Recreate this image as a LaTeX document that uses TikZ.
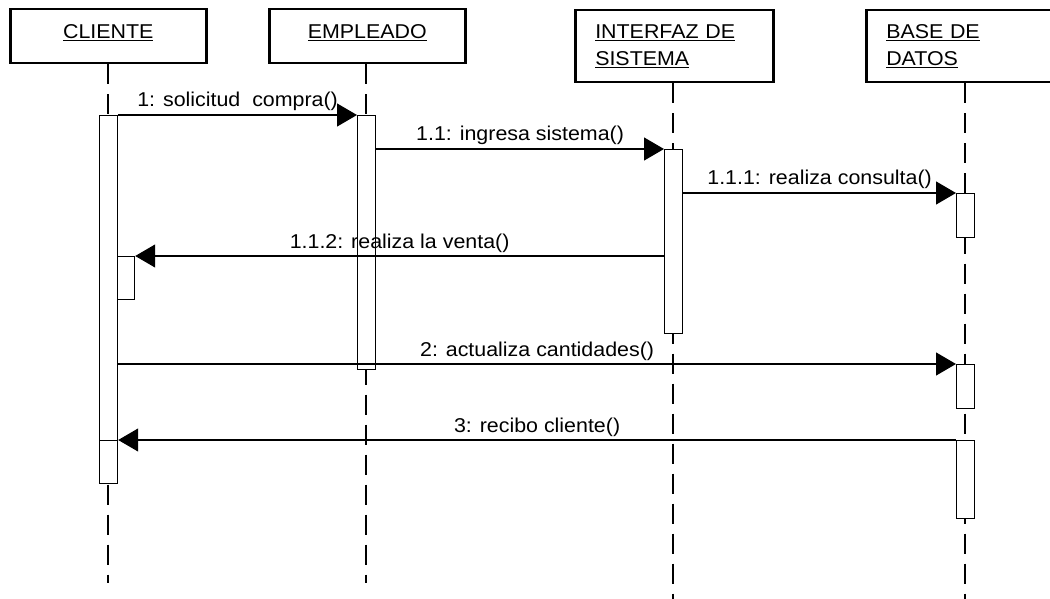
\documentclass[tikz,border=0pt]{standalone}
\usepackage{fontspec}
\setmainfont{Liberation Sans}[FakeStretch=1.07]
\usetikzlibrary{arrows.meta}

\tikzset{
  actor/.style={draw, line width=2.5pt, minimum width=196pt, minimum height=54pt,
    inner sep=0pt, text height=14pt, text depth=9pt},
  actorwide/.style={draw, line width=2.5pt, minimum width=198pt, minimum height=72pt,
    inner xsep=20pt, inner ysep=0pt, text width=158pt, align=left},
  lifeline/.style={line width=1.2pt, dash pattern=on 20pt off 10pt},
  activation/.style={draw, fill=white, line width=1.2pt, minimum width=18pt, inner sep=0pt, anchor=north west},
  msg/.style={line width=1.2pt, -{Triangle[length=20pt,width=23pt]}},
  msglabel/.style={midway, anchor=base, yshift=8pt}
}

\begin{document}
\begin{tikzpicture}[x=1pt, y=-1pt, font=\fontsize{20}{27}\selectfont]
        \useasboundingbox (0,0) rectangle (1050,599);
        \clip (0,0) rectangle (1050,599);

        % Draw the objects
        \node[actor, anchor=north west] (cliente) at (9,8) {\underline{CLIENTE}};
        \node[actor, anchor=north west] (empleado) at (268,8) {\underline{EMPLEADO}};
        \node[actorwide, anchor=north west] (interfaz) at (574,9) {\underline{INTERFAZ DE}\\\underline{SISTEMA}};
        \node[actorwide, anchor=north west] (basedatos) at (865,9) {\underline{BASE DE}\\\underline{DATOS}};

        % Add the lifelines
        \coordinate (clienteEnd) at (108,583);
        \coordinate (empleadoEnd) at (366,583);
        \coordinate (interfazEnd) at (673,600);
        \coordinate (basedatosEnd) at (965,600);
        \draw[lifeline] (cliente.south -| clienteEnd) -- (clienteEnd);
        \draw[lifeline] (empleado.south -| empleadoEnd) -- (empleadoEnd);
        \draw[lifeline] (interfaz.south -| interfazEnd) -- (interfazEnd);
        \draw[lifeline] (basedatos.south -| basedatosEnd) -- (basedatosEnd);

        % Add the activation bars
        \node[activation, minimum height=325pt] (actCliente) at (99,115) {};
        \node[activation, minimum height=43pt] (actClienteB) at (99,440) {};
        \node[activation, minimum width=17pt, minimum height=43pt] (actClienteS) at (117,256) {};
        \node[activation, minimum height=254pt] (actEmpleado) at (357,115) {};
        \node[activation, minimum height=184pt] (actInterfaz) at (664,149) {};
        \node[activation, minimum height=44pt] (actBaseA) at (956,193) {};
        \node[activation, minimum height=44pt] (actBaseB) at (956,364) {};
        \node[activation, minimum height=78pt] (actBaseC) at (956,440) {};

        % Add the messages
        \draw[msg] (actCliente.north east) -- (actEmpleado.north west)
          node[msglabel] {1: solicitud\ \ compra()};
        \draw[msg] (actEmpleado.east |- actInterfaz.north) -- (actInterfaz.north west)
          node[msglabel] {1.1: ingresa sistema()};
        \draw[msg] (actInterfaz.east |- actBaseA.north) -- (actBaseA.north west)
          node[msglabel] {1.1.1: realiza consulta()};
        \draw[msg] (actInterfaz.west |- actClienteS.north) -- (actClienteS.north east)
          node[msglabel] {1.1.2: realiza la venta()};
        \draw[msg] (actCliente.east |- actBaseB.north) -- (actBaseB.north west)
          node[msglabel] {2: actualiza cantidades()};
        \draw[msg] (actBaseC.north west) -- (actClienteB.north east)
          node[msglabel] {3: recibo cliente()};
    \end{tikzpicture}
\end{document}
